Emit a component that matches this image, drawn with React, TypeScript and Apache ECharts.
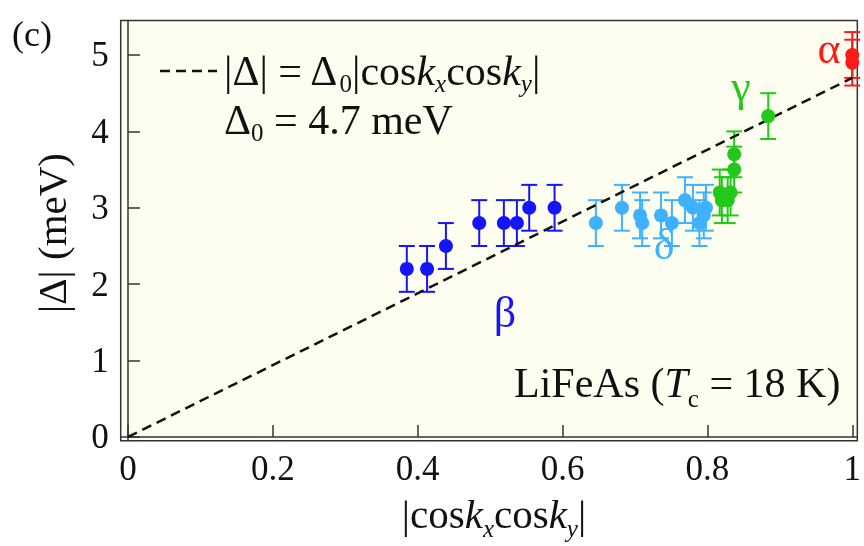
import React, { useEffect, useRef } from "react";
import * as echarts from "echarts";

const FONT = "Liberation Serif";

const fitLine: number[][] = [[0, 0], [1, 4.7]];

const betaX = [0.385, 0.413, 0.439, 0.485, 0.519, 0.537, 0.554, 0.589];
const betaY = [2.2, 2.2, 2.5, 2.8, 2.8, 2.8, 3.0, 3.0];
const betaErr = [0.3, 0.3, 0.3, 0.3, 0.3, 0.3, 0.3, 0.3];

const deltaX = [0.646, 0.682, 0.707, 0.71, 0.736, 0.751, 0.769, 0.78, 0.789, 0.795, 0.798];
const deltaY = [2.8, 3.0, 2.9, 2.8, 2.9, 2.8, 3.1, 3.0, 2.8, 2.9, 3.0];
const deltaErr = [0.3, 0.3, 0.3, 0.3, 0.3, 0.3, 0.3, 0.3, 0.3, 0.3, 0.3];

const gammaX = [0.817, 0.82, 0.828, 0.832, 0.837, 0.837, 0.884];
const gammaY = [3.2, 3.1, 3.1, 3.2, 3.5, 3.7, 4.2];
const gammaErr = [0.3, 0.3, 0.3, 0.3, 0.3, 0.3, 0.3];

const alphaX = [1.0, 1.0];
const alphaY = [5.0, 4.9];
const alphaErr = [0.3, 0.3];

const xTicks = [0, 0.2, 0.4, 0.6, 0.8, 1];
const yTicks = [0, 1, 2, 3, 4, 5];

const groups = [
  { name: "β", xs: betaX, ys: betaY, es: betaErr, color: "#1414ff", lx: 505, ly: 312 },
  { name: "δ", xs: deltaX, ys: deltaY, es: deltaErr, color: "#3fb2ff", lx: 664, ly: 244 },
  { name: "γ", xs: gammaX, ys: gammaY, es: gammaErr, color: "#22c81a", lx: 741, ly: 86 },
  { name: "α", xs: alphaX, ys: alphaY, es: alphaErr, color: "#ff1a1a", lx: 829, ly: 48 },
];

export default function App() {
  const ref = useRef<HTMLDivElement>(null);
  useEffect(() => {
    if (!ref.current) return;
    const chart = echarts.init(ref.current, null, { renderer: "svg" });
    const series: any[] = [];
    groups.forEach((g) => {
      const data = g.xs.map((x, i) => [x, g.ys[i], g.es[i]]);
      series.push({
        type: "custom",
        name: g.name + " err",
        data,
        encode: { x: 0, y: 1 },
        z: 2,
        renderItem: (params: any, api: any) => {
          const x = api.value(0);
          const y = api.value(1);
          const e = api.value(2);
          const t = api.coord([x, y + e]);
          const b = api.coord([x, y - e]);
          const hw = 8;
          const st = { stroke: g.color, lineWidth: 2 };
          return {
            type: "group",
            children: [
              { type: "line", shape: { x1: t[0], y1: t[1], x2: b[0], y2: b[1] }, style: st },
              { type: "line", shape: { x1: t[0] - hw, y1: t[1], x2: t[0] + hw, y2: t[1] }, style: st },
              { type: "line", shape: { x1: b[0] - hw, y1: b[1], x2: b[0] + hw, y2: b[1] }, style: st },
            ],
          };
        },
      });
    });
    series.push({
      type: "line",
      data: fitLine,
      symbol: "none",
      z: 3,
      lineStyle: { color: "#111", width: 2.5, type: [10, 6] },
    });
    groups.forEach((g) => {
      series.push({
        type: "scatter",
        name: g.name,
        data: g.xs.map((x, i) => [x, g.ys[i]]),
        symbol: "circle",
        symbolSize: 14,
        z: 4,
        itemStyle: { color: g.color, opacity: 1 },
      });
    });

    const mk = (size: number, lh: number) => ({
      n: { fontSize: size, fontFamily: FONT, fill: "#111", lineHeight: lh },
      i: { fontSize: size, fontFamily: FONT, fill: "#111", lineHeight: lh, fontStyle: "italic" },
      s: { fontSize: Math.round(size * 0.6), fontFamily: FONT, fill: "#111", verticalAlign: "bottom" },
      si: { fontSize: Math.round(size * 0.6), fontFamily: FONT, fill: "#111", verticalAlign: "bottom", fontStyle: "italic" },
    });

    chart.setOption({
      animation: false,
      textStyle: { fontFamily: FONT },
      grid: {
        left: 120.7,
        top: 20.6,
        right: 0,
        bottom: 105.2,
        show: true,
        backgroundColor: "#fefef0",
        borderColor: "#333",
        borderWidth: 1.5,
      },
      xAxis: {
        type: "value",
        min: -0.01,
        max: 1.007,
        axisLine: { show: true, lineStyle: { color: "#333", width: 1.5 } },
        axisTick: { show: true, inside: true, length: 12, customValues: xTicks, lineStyle: { color: "#333", width: 1.5 } },
        axisLabel: { customValues: xTicks, fontSize: 35, color: "#111", margin: 10, fontFamily: FONT, formatter: (v: number) => String(v) },
        splitLine: { show: false },
      },
      yAxis: {
        type: "value",
        min: -0.05,
        max: 5.45,
        axisLine: { show: true, lineStyle: { color: "#333", width: 1.5 } },
        axisTick: { show: true, inside: true, length: 12, customValues: yTicks, lineStyle: { color: "#333", width: 1.5 } },
        axisLabel: { customValues: yTicks, fontSize: 35, color: "#111", margin: 12, fontFamily: FONT },
        splitLine: { show: false },
      },
      series,
      graphic: [
        { type: "text", left: 12, top: 16, style: { text: "(c)", font: `36px ${FONT}`, fill: "#111" } },
        {
          type: "text",
          x: 52,
          y: 233,
          rotation: Math.PI / 2,
          style: { text: "|Δ| (meV)", font: `41px ${FONT}`, fill: "#111", align: "center", verticalAlign: "middle" },
        },
        {
          type: "text",
          x: 494,
          y: 514,
          style: {
            text: "{n||cos}{i|k}{si|x}{n|cos}{i|k}{si|y}{n||}",
            align: "center",
            verticalAlign: "middle",
            rich: mk(41, 54),
          },
        },
        {
          type: "line",
          shape: { x1: 160, y1: 71, x2: 217, y2: 71 },
          style: { stroke: "#111", lineWidth: 2.5, lineDash: [10, 6] },
        },
        {
          type: "text",
          x: 224,
          y: 95.5,
          style: {
            text: "{n||Δ| = Δ}{s|0}{n||cos}{i|k}{si|x}{n|cos}{i|k}{si|y}{n||}\n{n|Δ}{s|0}{n| = 4.7 meV}",
            align: "left",
            verticalAlign: "middle",
            rich: mk(42, 49),
          },
        },
        {
          type: "text",
          x: 514,
          y: 383,
          style: {
            text: "{n|LiFeAs (}{i|T}{s|c}{n| = 18 K)}",
            align: "left",
            verticalAlign: "middle",
            rich: mk(42, 56),
          },
        },
        ...groups.map((g) => ({
          type: "text",
          x: g.lx,
          y: g.ly,
          style: { text: g.name, font: `44px ${FONT}`, fill: g.color, align: "center", verticalAlign: "middle" },
        })),
      ],
    });
    return () => chart.dispose();
  }, []);
  return <div ref={ref} style={{ position: "fixed", left: 0, top: 0, width: 864, height: 546 }} />;
}
